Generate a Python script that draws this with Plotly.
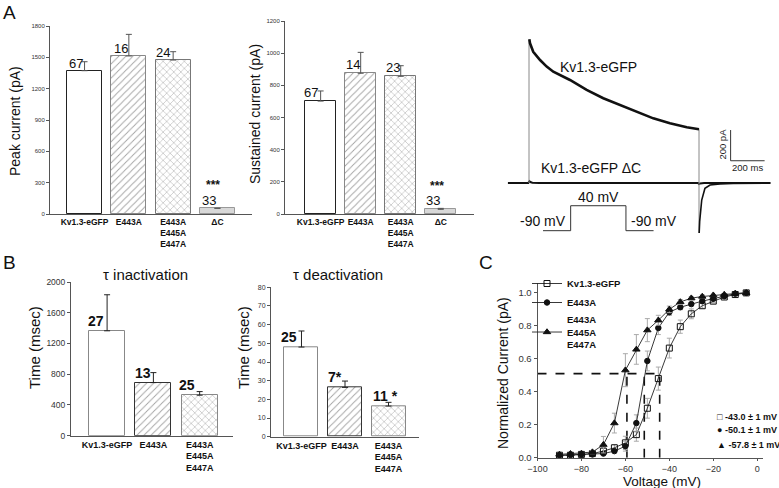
import plotly.graph_objects as go

W, H = 779, 488

# ------------------------------------------------------------------ data
A_GROUPS = ["Kv1.3-eGFP", "E443A", "E443A<br>E445A<br>E447A", "ΔC"]
PEAK_PA = [1372, 1513, 1474, 55]
PEAK_SEM = [86, 207, 80, 0]
PEAK_N = ["67", "16", "24", "33"]
SUST_PA = [702, 875, 856, 29]
SUST_SEM = [63, 130, 66, 6]
SUST_N = ["67", "14", "23", "33"]
A_SIG = ["", "", "", "***"]

B_GROUPS = ["Kv1.3-eGFP", "E443A", "E443A<br>E445A<br>E447A"]
TAU_INACT_MS = [1365, 691, 527]
TAU_INACT_SEM = [469, 130, 47]
TAU_INACT_N = ["27", "13", "25"]
TAU_DEACT_MS = [48.0, 26.4, 16.4]
TAU_DEACT_SEM = [8.6, 3.4, 2.0]
TAU_DEACT_N = ["25", "7*", "11 *"]

# representative current traces (time in ms, current in pA)
KV_T_MS = [2, 6, 25, 65, 104, 143, 241, 339, 437, 535, 634, 731, 829, 928, 1000]
KV_I_PA = [936, 910, 855, 801, 758, 725, 671, 606, 552, 508, 464, 421, 389, 363, 350]
KV_ON_T = [0, 0]
KV_ON_I = [0, 936]
KV_OFF_T = [1000, 1000]
KV_OFF_I = [350, -326]
KV_TAIL_T = [1001, 1004, 1016, 1035, 1065, 1124, 1200, 1300, 1420]
KV_TAIL_I = [-326, -250, -111, -35, -13, -6, -3, 0, 0]
DC_T_MS = [-124, -4, 0, 3, 8, 20, 60, 400, 800, 995, 1000, 1006, 1030, 1420]
DC_I_PA = [0, 0, 8, 12, 6, 2, 0, 0, 0, 0, -6, -3, 0, 0]

# voltage protocol
PROTO_T_MS = [-500, 0, 0, 1000, 1000, 1500]
PROTO_MV = [-90, -90, 40, 40, -90, -90]
SCALE_MS = 200
SCALE_PA = 200

# activation curves
VOLT_MV = [-90, -85, -80, -75, -70, -65, -60, -55, -50, -45, -40, -35, -30, -25, -20, -15, -10, -5]
G_WT = [0.015, 0.015, 0.02, 0.025, 0.04, 0.06, 0.09, 0.14, 0.30, 0.48, 0.665, 0.795, 0.873, 0.922, 0.95, 0.975, 0.99, 1.0]
G_WT_ERR = [0, 0, 0, 0.005, 0.02, 0.02, 0.04, 0.04, 0.06, 0.07, 0.06, 0.04, 0.03, 0.015, 0.01, 0.005, 0, 0]
G_E443A = [0.015, 0.017, 0.02, 0.02, 0.025, 0.04, 0.07, 0.21, 0.587, 0.787, 0.883, 0.913, 0.932, 0.95, 0.965, 0.98, 0.995, 1.0]
G_E443A_ERR = [0, 0, 0, 0, 0.005, 0.01, 0.03, 0.05, 0.06, 0.04, 0.02, 0.015, 0.01, 0.01, 0.005, 0, 0, 0]
G_TRIPLE = [0.02, 0.024, 0.026, 0.034, 0.079, 0.21, 0.531, 0.657, 0.774, 0.834, 0.90, 0.945, 0.968, 0.978, 0.986, 0.99, 0.996, 1.0]
G_TRIPLE_ERR = [0, 0, 0, 0.01, 0.05, 0.06, 0.10, 0.09, 0.07, 0.03, 0.02, 0.015, 0.01, 0.01, 0.005, 0, 0, 0]
C_NAMES = ["Kv1.3-eGFP", "E443A", "E443A<br>E445A<br>E447A"]
V_HALF = [-43.0, -50.1, -57.8]
V_HALF_SYMBOL = ["□", "●", "▲"]
CROSS_V = [-59.3, -51.4, -44.4]
CROSS_LEVEL = 0.51

# ------------------------------------------------------------------ style
FONT = "Liberation Sans, Arial, sans-serif"
NARROW = "Liberation Sans Narrow, Arial Narrow, Liberation Sans, Arial, sans-serif"


def px_x(p):
    return p / W


def px_y(p):
    return 1 - p / H


fig = go.Figure()
annotations = []


def bar_panel(xa, ya, vals, sems, fills, pats, fgs, lines, width, ecolor):
    n = len(vals)
    fig.add_trace(go.Bar(
        x=list(range(n)), y=vals, width=width, xaxis=xa, yaxis=ya,
        marker=dict(color=fills, line=dict(color=lines, width=1),
                    pattern=dict(shape=pats, fgcolor=fgs, size=5, solidity=0.18,
                                 fillmode="overlay")),
        error_y=dict(type="data", symmetric=False, array=sems, arrayminus=[0] * n,
                     color=ecolor, thickness=1, width=3),
        showlegend=False, hoverinfo="skip"))


def bar_labels(xa, ya, vals, labels, shifts, yshift, size, weight):
    for i, (v, t) in enumerate(zip(vals, labels)):
        annotations.append(dict(x=i, y=v, xref=xa, yref=ya, text=t, showarrow=False,
                                xanchor="center", yanchor="bottom", xshift=shifts[i],
                                yshift=yshift, font=dict(size=size, family=FONT,
                                                         weight=weight, color="#111")))


A_FILL = ["white", "white", "white", "#d8d8d8"]
A_PAT = ["", "/", "x", ""]
A_FG = ["#000", "#b8b8b8", "#a8a8a8", "#000"]
A_LINE = ["#222", "#888", "#777", "#999"]

B_FILL = ["white", "white", "white"]
B_PAT = ["", "/", "x"]
B_FG = ["#000", "#8a8a8a", "#9a9a9a"]
B_LINE = ["#888", "#333", "#888"]

# Panel A bars
bar_panel("x", "y", PEAK_PA, PEAK_SEM, A_FILL, A_PAT, A_FG, A_LINE, 0.79, "#555")
bar_panel("x2", "y2", SUST_PA, SUST_SEM, A_FILL, A_PAT, A_FG, A_LINE, 0.78, "#555")
bar_labels("x", "y", PEAK_PA, PEAK_N, [-9, -8, -10, -8], -2, 13, "normal")
bar_labels("x2", "y2", SUST_PA, SUST_N, [-10, -8, -8, -8], -1, 13, "normal")
for xa, ya, vals in (("x", "y", PEAK_PA), ("x2", "y2", SUST_PA)):
    for i, s in enumerate(A_SIG):
        if s:
            annotations.append(dict(x=i, y=vals[i], xref=xa, yref=ya, text=s, showarrow=False,
                                    yanchor="middle", yshift=23, xshift=-4,
                                    font=dict(size=12, family=FONT, weight="bold")))

# Panel B bars
bar_panel("x5", "y5", TAU_INACT_MS, TAU_INACT_SEM, B_FILL, B_PAT, B_FG, B_LINE, 0.78, "#222")
bar_panel("x6", "y6", TAU_DEACT_MS, TAU_DEACT_SEM, B_FILL, B_PAT, B_FG, B_LINE, 0.78, "#222")
bar_labels("x5", "y5", TAU_INACT_MS, TAU_INACT_N, [-11, -10, -13], 0, 14, "bold")
bar_labels("x6", "y6", TAU_DEACT_MS, TAU_DEACT_N, [-12, -10, -3], 0, 14, "bold")

# Current traces
fig.add_trace(go.Scatter(x=DC_T_MS, y=DC_I_PA, xaxis="x3", yaxis="y3", mode="lines",
                         line=dict(color="#111", width=2), showlegend=False, hoverinfo="skip"))
fig.add_trace(go.Scatter(x=KV_ON_T, y=KV_ON_I, xaxis="x3", yaxis="y3", mode="lines",
                         line=dict(color="#888", width=1), showlegend=False, hoverinfo="skip"))
fig.add_trace(go.Scatter(x=KV_OFF_T, y=KV_OFF_I, xaxis="x3", yaxis="y3", mode="lines",
                         line=dict(color="#888", width=1), showlegend=False, hoverinfo="skip"))
fig.add_trace(go.Scatter(x=KV_T_MS, y=KV_I_PA, xaxis="x3", yaxis="y3", mode="lines",
                         line=dict(color="#111", width=2.6), showlegend=False, hoverinfo="skip"))
fig.add_trace(go.Scatter(x=KV_TAIL_T, y=KV_TAIL_I, xaxis="x3", yaxis="y3", mode="lines",
                         line=dict(color="#111", width=1.6), showlegend=False, hoverinfo="skip"))
SB_T0, SB_I0 = 1186, 145
fig.add_trace(go.Scatter(x=[SB_T0, SB_T0, SB_T0 + SCALE_MS], y=[SB_I0 + SCALE_PA, SB_I0, SB_I0],
                         xaxis="x3", yaxis="y3", mode="lines", line=dict(color="#333", width=1),
                         showlegend=False, hoverinfo="skip"))
annotations += [
    dict(x=406, y=754, xref="x3", yref="y3", text="Kv1.3-eGFP", showarrow=False,
         font=dict(size=14, family=FONT, color="#111")),
    dict(x=363, y=98, xref="x3", yref="y3", text="Kv1.3-eGFP ΔC", showarrow=False,
         font=dict(size=14, family=FONT, color="#111")),
    dict(x=1133, y=254, xref="x3", yref="y3", text=f"{SCALE_PA} pA", showarrow=False,
         textangle=-90, font=dict(size=9.5, family=FONT, color="#222")),
    dict(x=1285, y=100, xref="x3", yref="y3", text=f"{SCALE_MS} ms", showarrow=False,
         font=dict(size=9.5, family=FONT, color="#222")),
]

# Voltage protocol
fig.add_trace(go.Scatter(x=PROTO_T_MS, y=PROTO_MV, xaxis="x4", yaxis="y4", mode="lines",
                         line=dict(color="#333", width=1), showlegend=False, hoverinfo="skip"))
annotations += [
    dict(x=500, y=40, xref="x4", yref="y4", text="40 mV", showarrow=False, yanchor="bottom",
         yshift=-1, font=dict(size=14, family=FONT, color="#111")),
    dict(x=-500, y=-90, xref="x4", yref="y4", text="-90 mV", showarrow=False, yanchor="bottom",
         yshift=0, font=dict(size=14, family=FONT, color="#111")),
    dict(x=1500, y=-90, xref="x4", yref="y4", text="-90 mV", showarrow=False, yanchor="bottom",
         yshift=0, font=dict(size=14, family=FONT, color="#111")),
]

# Activation curves
dash_x, dash_y = [-100, max(CROSS_V)], [CROSS_LEVEL, CROSS_LEVEL]
for v in CROSS_V:
    dash_x += [None, v, v]
    dash_y += [None, 0, CROSS_LEVEL]
fig.add_trace(go.Scatter(x=dash_x, y=dash_y, xaxis="x7", yaxis="y7", mode="lines",
                         line=dict(color="#111", width=1.6, dash="dash"),
                         showlegend=False, hoverinfo="skip"))

C_SERIES = [(G_WT, G_WT_ERR, "square-open", 6), (G_E443A, G_E443A_ERR, "circle", 5.5),
            (G_TRIPLE, G_TRIPLE_ERR, "triangle-up", 6.5)]
for (vals, err, sym, sz), name in zip(C_SERIES, C_NAMES):
    fig.add_trace(go.Scatter(
        x=VOLT_MV, y=vals, xaxis="x7", yaxis="y7", mode="lines+markers", name=name,
        line=dict(color="#222", width=0.9),
        marker=dict(symbol=sym, size=sz, color="#111", line=dict(color="#111", width=1)),
        error_y=dict(type="data", array=err, color="#aaa", thickness=1, width=2.5),
        cliponaxis=False, hoverinfo="skip"))

for k, (sym, v, py) in enumerate(zip(V_HALF_SYMBOL, V_HALF, [424.3, 436.5, 451.7])):
    annotations.append(dict(x=px_x(715), y=px_y(py), xref="paper", yref="paper",
                            text=f"{sym} {v:.1f} ± 1 mV", showarrow=False, xanchor="left",
                            font=dict(size=9, family=NARROW, weight="bold", color="#111")))


# Titles / panel letters
def paper_text(x, y, text, size, angle=0, weight="normal"):
    annotations.append(dict(x=px_x(x), y=px_y(y), xref="paper", yref="paper", text=text,
                            showarrow=False, textangle=angle, xanchor="center", yanchor="middle",
                            font=dict(size=size, family=FONT, weight=weight, color="#111")))


paper_text(9, 12, "A", 19)
paper_text(9, 262, "B", 19)
paper_text(486, 262, "C", 19)
paper_text(15, 121, "Peak current (pA)", 14, -90)
paper_text(255, 114, "Sustained current (pA)", 14, -90)
paper_text(145, 274, "τ inactivation", 15)
paper_text(338, 274, "τ deactivation", 15)
paper_text(34, 348, "Time (msec)", 15, -90)
paper_text(243, 347, "Time (msec)", 15, -90)
paper_text(503, 373, "Normalized Current (pA)", 14, -90)
paper_text(662, 481, "Voltage (mV)", 13.5)

# ------------------------------------------------------------------ axes
AX_LINE = "#555"


def cat_xaxis(domain, rng, anchor, labels, size):
    return dict(domain=[px_x(domain[0]), px_x(domain[1])], range=rng, anchor=anchor,
                tickvals=list(range(len(labels))), ticktext=labels, ticks="",
                showline=True, linecolor=AX_LINE, linewidth=1, showgrid=False, zeroline=False,
                tickfont=dict(size=size, family=NARROW, weight="bold", color="#111"),
                fixedrange=True, automargin=False)


def val_yaxis(domain, rng, anchor, dtick, size):
    return dict(domain=[px_y(domain[0]), px_y(domain[1])], range=rng, anchor=anchor,
                dtick=dtick, tick0=0, ticks="outside", ticklen=3, tickcolor=AX_LINE,
                showline=True, linecolor=AX_LINE, linewidth=1, showgrid=False, zeroline=False,
                tickfont=dict(size=size, family=FONT, color="#333"), fixedrange=True,
                automargin=False)


hidden = dict(visible=False, showgrid=False, zeroline=False, fixedrange=True, automargin=False)

fig.update_layout(
    template="none",
    width=W, height=H, margin=dict(l=0, r=0, t=0, b=0, pad=0, autoexpand=False),
    paper_bgcolor="white", plot_bgcolor="rgba(0,0,0,0)",
    font=dict(family=FONT, color="#111"),
    bargap=0,
    xaxis=cat_xaxis((50, 252), [-0.78, 3.78], "y", A_GROUPS, 8.5),
    yaxis=val_yaxis((214, 26), [0, 1800], "x", 300, 6),
    xaxis2=cat_xaxis((285, 474), [-0.89, 3.83], "y2", A_GROUPS, 8.5),
    yaxis2=val_yaxis((214, 21), [0, 1200], "x2", 200, 6),
    xaxis3=dict(domain=[px_x(505), px_x(775)], range=[-141.2, 1447.1], anchor="y3", **hidden),
    yaxis3=dict(domain=[px_y(245), px_y(30)], range=[-403.9, 996.7], anchor="x3", **hidden),
    xaxis4=dict(domain=[px_x(537.5), px_x(659.1)], range=[-600, 1600], anchor="y4", **hidden),
    yaxis4=dict(domain=[px_y(232.6), px_y(203.8)], range=[-100, 50], anchor="x4", **hidden),
    xaxis5=cat_xaxis((71, 233), [-0.78, 2.72], "y5", B_GROUPS, 9),
    yaxis5=val_yaxis((435.7, 282), [0, 2000], "x5", 400, 8.5),
    xaxis6=cat_xaxis((271, 419), [-0.70, 2.70], "y6", B_GROUPS, 9),
    yaxis6=val_yaxis((436.7, 287.3), [0, 80], "x6", 10, 7),
    xaxis7=dict(domain=[px_x(537.5), px_x(762.7)], range=[-100, 2.5], anchor="y7",
                tickvals=[-100, -80, -60, -40, -20, 0], ticks="outside", ticklen=2,
                tickcolor=AX_LINE, showline=True, linecolor=AX_LINE, showgrid=False,
                zeroline=False, tickfont=dict(size=9, family=FONT, color="#333"),
                fixedrange=True, automargin=False),
    yaxis7=dict(domain=[px_y(457.7), px_y(283)], range=[0, 1.06], anchor="x7",
                tickvals=[0, 0.2, 0.4, 0.6, 0.8, 1.0], tickformat=".1f", ticks="outside",
                ticklen=3, tickcolor=AX_LINE, showline=True, linecolor=AX_LINE,
                showgrid=False, zeroline=False,
                tickfont=dict(size=9.5, family=FONT, color="#333"), fixedrange=True,
                automargin=False),
    legend=dict(x=px_x(527), y=px_y(269), xanchor="left", yanchor="top",
                bgcolor="rgba(0,0,0,0)", borderwidth=0,
                font=dict(size=9.5, family=NARROW, weight="bold"),
                itemwidth=30, tracegroupgap=0, traceorder="normal"),
    annotations=annotations,
    showlegend=True,
)

fig.write_html("out.html", config={"displayModeBar": False},
               post_script="document.body.style.margin='0px';"
                           "document.body.style.overflow='hidden';")
